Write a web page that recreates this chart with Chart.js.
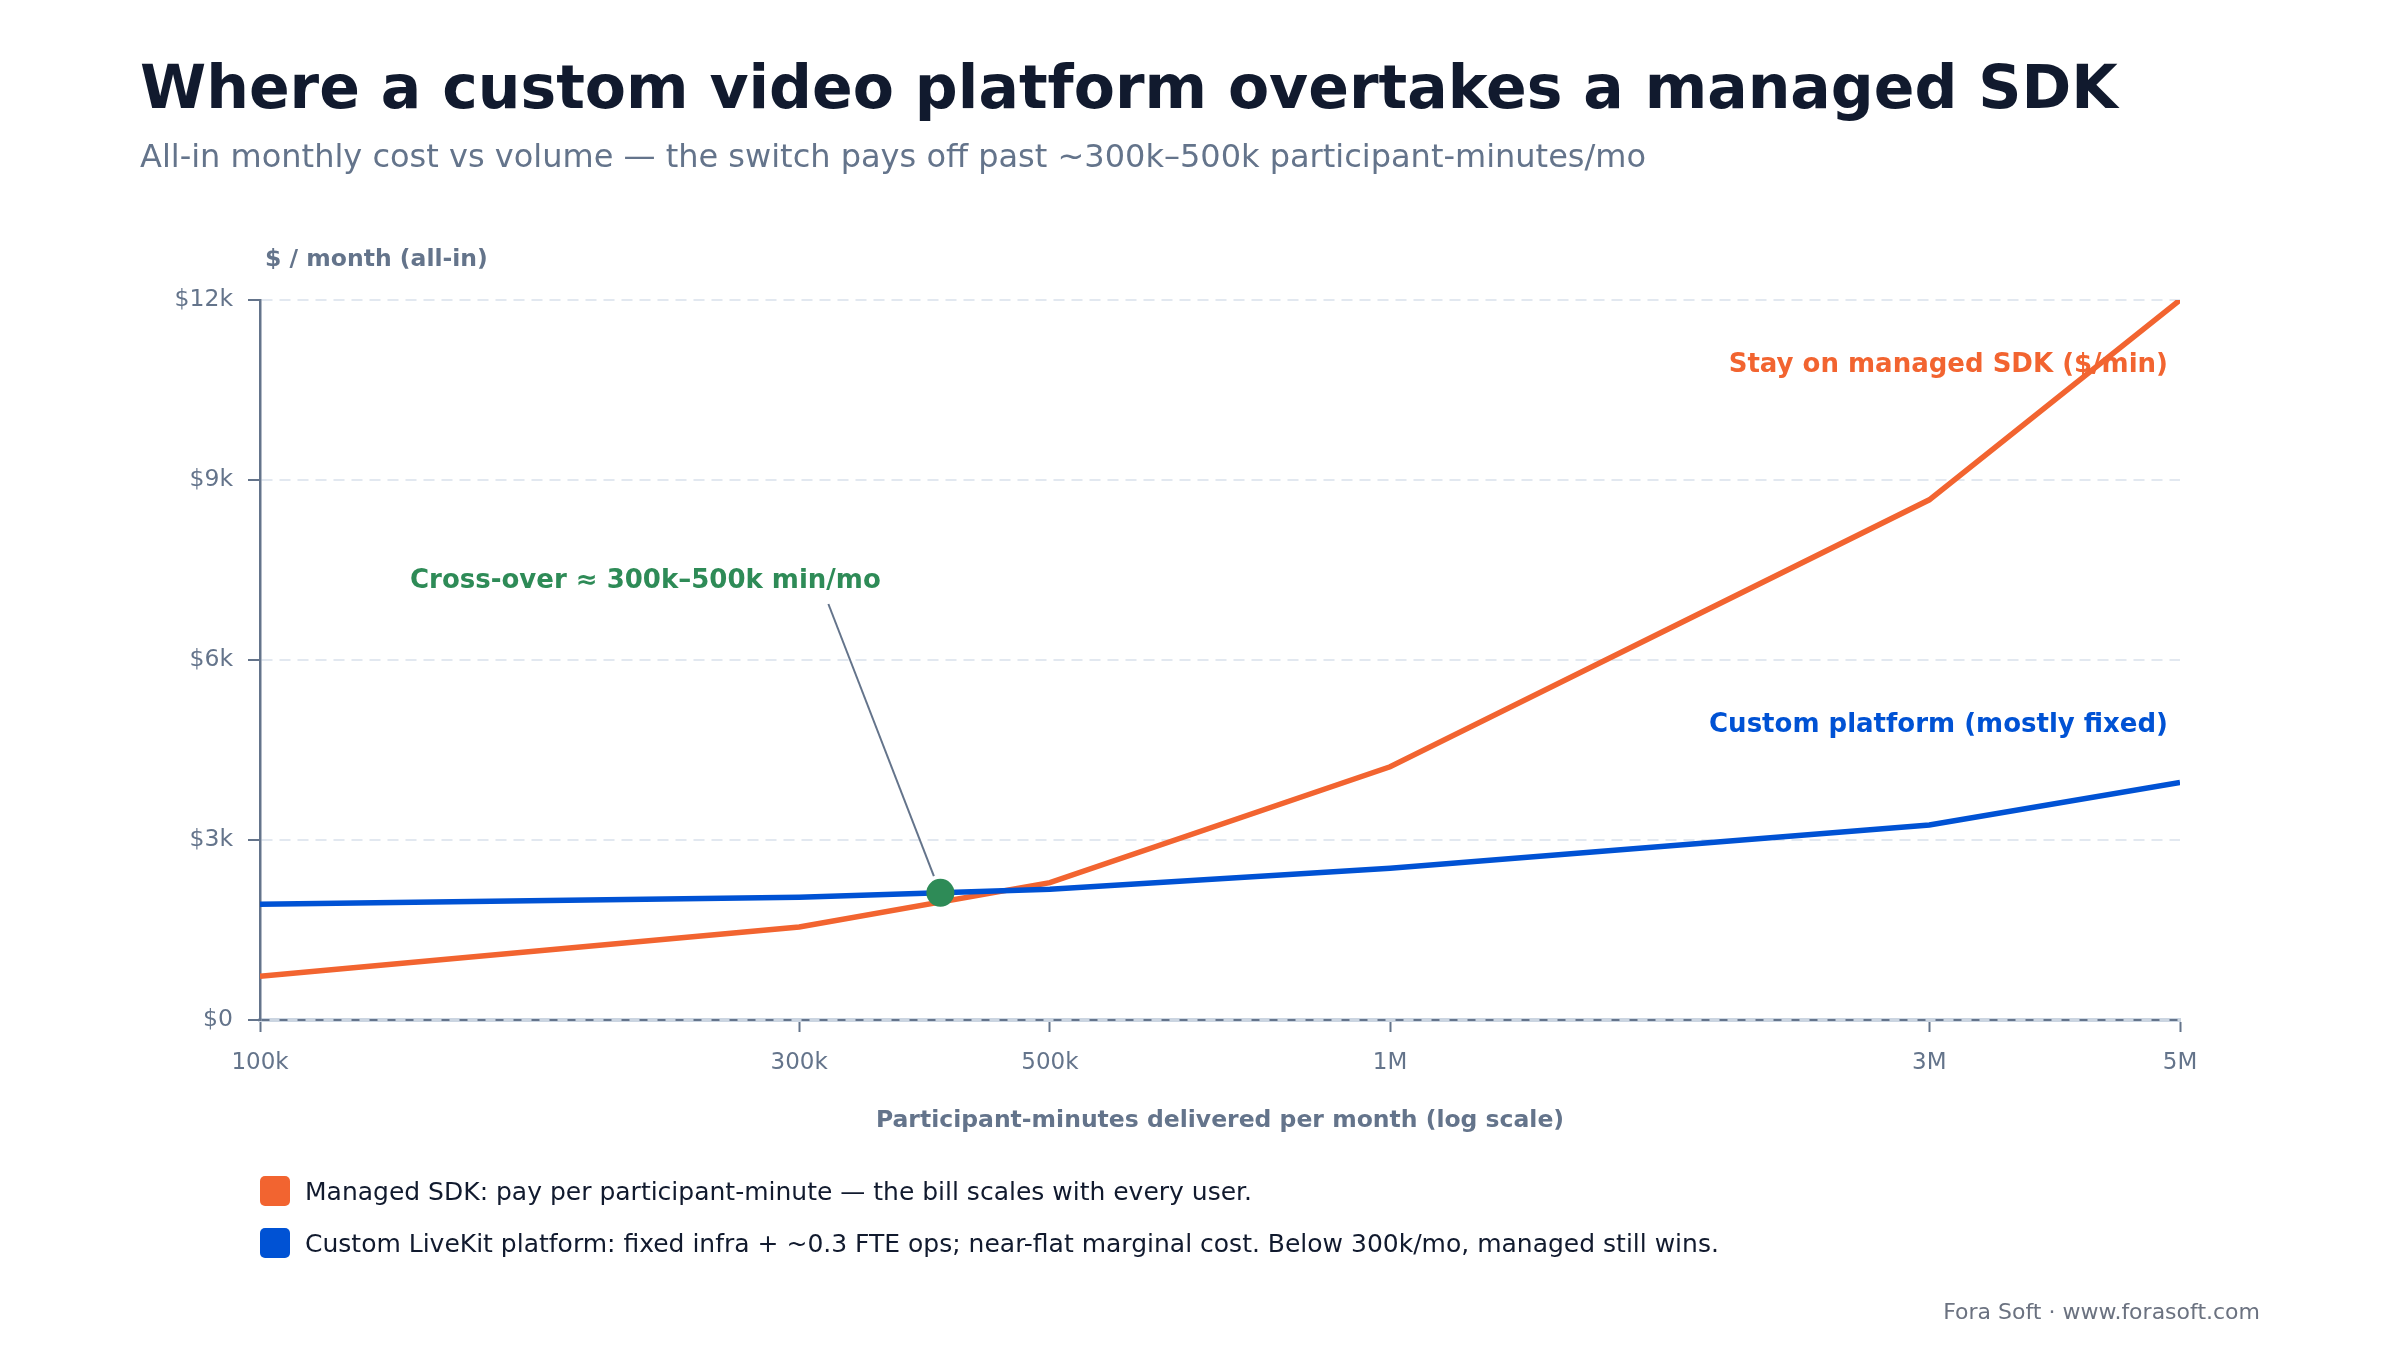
<!DOCTYPE html>
<html>
<head>
<meta charset="utf-8">
<script src="https://cdn.jsdelivr.net/npm/chart.js@4.4.1/dist/chart.umd.min.js"></script>
<style>
  html, body { margin: 0; padding: 0; background: #ffffff; width: 2400px; height: 1360px; overflow: hidden; font-family: "DejaVu Sans", sans-serif; }
  #wrap { position: relative; width: 2400px; height: 1360px; }
  #c { position: absolute; left: 0; top: 0; width: 2400px; height: 1360px; }
  .t { position: absolute; white-space: nowrap; line-height: 1; }
  .lg { position: absolute; left: 260px; height: 30px; display: flex; align-items: center; white-space: nowrap; font-size: 25px; line-height: 1; color: #111a2e; }
  .sw { width: 30px; height: 30px; border-radius: 5px; margin-right: 15px; flex: none; }
</style>
</head>
<body>
<div id="wrap">
  <canvas id="c" width="2400" height="1360"></canvas>
  <div class="t" id="title" style="left:140px;top:57px;font-size:60px;font-weight:bold;color:#111a2e;"></div>
  <div class="t" id="subtitle" style="left:140px;top:140px;font-size:32px;color:#64748b;"></div>
  <div id="legend"></div>
  <div class="t" id="footer" style="right:140px;top:1301px;font-size:22px;color:#6b7280;"></div>
</div>
<script>
// ---- data ----
const titleText = 'Where a custom video platform overtakes a managed SDK';
const subtitleText = 'All-in monthly cost vs volume \u2014 the switch pays off past ~300k\u2013500k participant-minutes/mo';
const footerText = 'Fora Soft \u00b7 www.forasoft.com';
const yAxisTitle = '$ / month (all-in)';
const xAxisTitle = 'Participant-minutes delivered per month (log scale)';

const volumes = [100000, 300000, 500000, 1000000, 3000000, 5000000];
const volumeLabels = ['100k', '300k', '500k', '1M', '3M', '5M'];
const managedCost = [730, 1550, 2290, 4220, 8670, 12000];
const customCost = [1930, 2045, 2180, 2530, 3250, 3960];
const crossoverVolume = [400000];
const crossoverCost = [2120];
const yTickValues = [0, 3000, 6000, 9000, 12000];
const yTickLabels = ['$0', '$3k', '$6k', '$9k', '$12k'];
const seriesLegend = [
  'Managed SDK: pay per participant-minute \u2014 the bill scales with every user.',
  'Custom LiveKit platform: fixed infra + ~0.3 FTE ops; near-flat marginal cost. Below 300k/mo, managed still wins.'
];
const seriesTags = ['Stay on managed SDK ($/min)', 'Custom platform (mostly fixed)'];
const crossoverText = 'Cross-over \u2248 300k\u2013500k min/mo';

// ---- styles ----
const ORANGE = '#f26430';
const BLUE = '#0052d4';
const GREEN = '#2e8b57';
const SLATE = '#64748b';
const GRID = '#e2e8f0';
const FONT = '"DejaVu Sans", sans-serif';

document.getElementById('title').textContent = titleText;
document.getElementById('subtitle').textContent = subtitleText;
document.getElementById('footer').textContent = footerText;

const legendColors = [ORANGE, BLUE];
const legendTops = [1176, 1228];
const legendEl = document.getElementById('legend');
seriesLegend.forEach((txt, i) => {
  const row = document.createElement('div');
  row.className = 'lg';
  row.style.top = legendTops[i] + 'px';
  const sw = document.createElement('span');
  sw.className = 'sw';
  sw.style.background = legendColors[i];
  const label = document.createElement('span');
  label.textContent = txt;
  row.appendChild(sw);
  row.appendChild(label);
  legendEl.appendChild(row);
});

const toPoints = (xs, ys) => xs.map((v, i) => ({ x: v, y: ys[i] }));

const overlay = {
  id: 'overlay',
  afterDatasetsDraw(chart) {
    const { ctx, chartArea, scales: { x, y } } = chart;
    ctx.save();
    // y-axis title (horizontal, above the axis)
    ctx.font = 'bold 23.5px ' + FONT;
    ctx.fillStyle = SLATE;
    ctx.textAlign = 'left';
    ctx.textBaseline = 'alphabetic';
    ctx.fillText(yAxisTitle, chartArea.left + 5, chartArea.top - 34);

    // series tags at right end
    ctx.font = 'bold 26px ' + FONT;
    ctx.textAlign = 'right';
    const rightX = x.getPixelForValue(volumes[volumes.length - 1]) - 12;
    ctx.fillStyle = ORANGE;
    ctx.fillText(seriesTags[0], rightX, y.getPixelForValue(10800));
    ctx.fillStyle = BLUE;
    ctx.fillText(seriesTags[1], rightX, y.getPixelForValue(4800));

    // cross-over annotation
    const textBase = y.getPixelForValue(7200);
    ctx.textAlign = 'left';
    ctx.fillStyle = GREEN;
    ctx.fillText(crossoverText, chartArea.left + 150, textBase);

    const mx = x.getPixelForValue(crossoverVolume[0]);
    const my = y.getPixelForValue(crossoverCost[0]);
    const sx = mx - 112, sy = textBase + 16;
    const dx = mx - sx, dy = my - sy;
    const len = Math.sqrt(dx * dx + dy * dy);
    const ex = mx - dx / len * 18, ey = my - dy / len * 18;
    ctx.strokeStyle = SLATE;
    ctx.lineWidth = 2;
    ctx.beginPath();
    ctx.moveTo(sx, sy);
    ctx.lineTo(ex, ey);
    ctx.stroke();
    ctx.restore();
  }
};

new Chart(document.getElementById('c'), {
  type: 'line',
  data: {
    datasets: [
      {
        label: 'Cross-over',
        data: toPoints(crossoverVolume, crossoverCost),
        showLine: false,
        pointRadius: 14,
        pointBackgroundColor: GREEN,
        pointBorderColor: GREEN,
        pointBorderWidth: 0,
        order: 0
      },
      {
        label: seriesLegend[1],
        data: toPoints(volumes, customCost),
        borderColor: BLUE,
        backgroundColor: BLUE,
        borderWidth: 5.5,
        pointRadius: 0,
        tension: 0,
        fill: false,
        order: 1
      },
      {
        label: seriesLegend[0],
        data: toPoints(volumes, managedCost),
        borderColor: ORANGE,
        backgroundColor: ORANGE,
        borderWidth: 5.5,
        pointRadius: 0,
        tension: 0,
        fill: false,
        order: 2
      }
    ]
  },
  options: {
    responsive: false,
    devicePixelRatio: 1,
    animation: false,
    events: [],
    layout: { padding: { left: 140, right: 220, top: 300, bottom: 225 } },
    plugins: {
      legend: { display: false },
      title: { display: false },
      tooltip: { enabled: false }
    },
    scales: {
      x: {
        type: 'logarithmic',
        min: volumes[0],
        max: volumes[volumes.length - 1],
        afterBuildTicks: (s) => { s.ticks = volumes.map(v => ({ value: v })); },
        afterFit: (s) => { s.height = 115; },
        ticks: {
          autoSkip: false,
          maxRotation: 0,
          minRotation: 0,
          padding: 17,
          color: SLATE,
          font: { family: FONT, size: 23 },
          callback: (v) => { const i = volumes.indexOf(v); return i >= 0 ? volumeLabels[i] : ''; }
        },
        grid: {
          display: true,
          drawOnChartArea: false,
          drawTicks: true,
          tickLength: 12,
          tickColor: SLATE,
          tickWidth: 2,
          color: SLATE,
          z: -3
        },
        border: { display: true, color: '#cbd5e1', width: 4, z: -2 },
        title: {
          display: true,
          text: xAxisTitle,
          color: SLATE,
          font: { family: FONT, size: 23.5, weight: 'bold' },
          padding: { top: 0, bottom: 0 }
        }
      },
      y: {
        type: 'linear',
        min: yTickValues[0],
        max: yTickValues[yTickValues.length - 1],
        afterBuildTicks: (s) => { s.ticks = yTickValues.map(v => ({ value: v })); },
        afterFit: (s) => { s.width = 120; },
        ticks: {
          padding: 15,
          color: SLATE,
          font: { family: FONT, size: 23.5 },
          callback: (v) => { const i = yTickValues.indexOf(v); return i >= 0 ? yTickLabels[i] : ''; }
        },
        grid: {
          display: true,
          drawOnChartArea: true,
          drawTicks: true,
          tickLength: 12,
          tickColor: SLATE,
          tickWidth: 2,
          lineWidth: 2,
          color: (c) => (c.tick && c.tick.value === 0 ? SLATE : GRID),
          z: -1
        },
        border: {
          display: true,
          color: SLATE,
          width: 2.5,
          dash: (c) => (c.tick && c.tick.value === 0 ? [8, 10] : [11, 7])
        }
      }
    }
  },
  plugins: [overlay]
});
</script>
</body>
</html>
